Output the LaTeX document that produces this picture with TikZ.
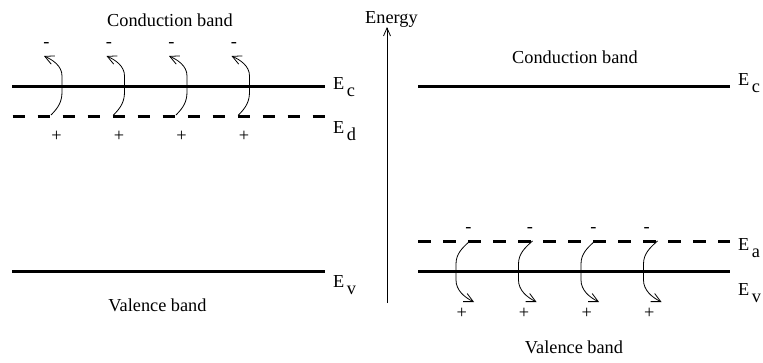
\documentclass[tikz,border=0pt]{standalone}
\usepackage{fontspec}
\setmainfont{Liberation Serif}
\usetikzlibrary{arrows.meta}
\tikzset{
  band/.style={line width=3pt},
  lvl/.style={line width=3pt, dash pattern=on 12.5pt off 12.5pt},
  jump/.style={line width=0.8pt, -{Straight Barb[length=9pt,width=9pt]}},
  lbl/.style={font=\fontsize{18.3}{22}\selectfont, inner sep=0pt},
  chg/.style={font=\fontsize{18.3}{22}\selectfont, inner sep=0pt, anchor=base},
}
\newcommand{\lev}[2]{E\hspace{2.5pt}\raisebox{-7.5pt}{#2}}
\begin{document}
\begin{tikzpicture}[x=1pt,y=-1pt]
\useasboundingbox (0,0) rectangle (763,362);
% energy axis
\coordinate (axb) at (387,303);
\coordinate (axt) at (387,27);
\draw[line width=0.8pt, -{Straight Barb[length=8pt,width=7pt]}] (axb) -- (axt);
\node[lbl, anchor=base west] (energy) at (365,23) {Energy};
% left panel
\coordinate (lcA) at (12,86.7); \coordinate (lcB) at (325,86.7);
\coordinate (ldA) at (12.5,116.7); \coordinate (ldB) at (325,116.7);
\coordinate (lvA) at (12,271.5); \coordinate (lvB) at (325,271.5);
\draw[band] (lcA) -- (lcB);
\draw[lvl] (ldA) -- (ldB);
\draw[band] (lvA) -- (lvB);
\node[lbl, anchor=base] (lcond) at (170,26.5) {Conduction band};
\node[lbl, anchor=base] (lval) at (157.5,311) {Valence band};
\node[lbl, anchor=base west] (lEc) at (333,89) {\lev{E}{c}};
\node[lbl, anchor=base west] (lEd) at (333,133) {\lev{E}{d}};
\node[lbl, anchor=base west] (lEv) at (333,287) {\lev{E}{v}};
\foreach \k in {0,1,2,3}{
  \pgfmathsetmacro{\xo}{62.5*\k}
  \node[chg] (lm\k) at (46.5+\xo,47.5) {-};
  \node[chg] (lp\k) at (56.5+\xo,141) {+};
  \coordinate (ls\k) at (51+\xo,115);
  \coordinate (lt\k) at (44+\xo,56);
  \draw[jump] (ls\k) .. controls ([xshift=7pt,yshift=7pt]ls\k) and ([xshift=11pt,yshift=13pt]ls\k) .. ([xshift=11pt,yshift=23pt]ls\k)
     -- ([xshift=11pt,yshift=39pt]ls\k) .. controls ([xshift=11pt,yshift=49pt]ls\k) and ([xshift=2pt,yshift=55pt]ls\k) .. (lt\k);
}
% right panel
\coordinate (rcA) at (418,86.7); \coordinate (rcB) at (730,86.7);
\coordinate (raA) at (418,241); \coordinate (raB) at (730,241);
\coordinate (rvA) at (418,271.5); \coordinate (rvB) at (730,271.5);
\draw[band] (rcA) -- (rcB);
\draw[lvl] (raA) -- (raB);
\draw[band] (rvA) -- (rvB);
\node[lbl, anchor=base] (rcond) at (575,63) {Conduction band};
\node[lbl, anchor=base] (rval) at (574,353) {Valence band};
\node[lbl, anchor=base west] (rEc) at (738,85) {\lev{E}{c}};
\node[lbl, anchor=base west] (rEa) at (738,250) {\lev{E}{a}};
\node[lbl, anchor=base west] (rEv) at (738,295) {\lev{E}{v}};
\node[chg] (rm0) at (468.3,232) {-};
\node[chg] (rm1) at (530,232) {-};
\node[chg] (rm2) at (593.3,232) {-};
\node[chg] (rm3) at (646.7,232) {-};
\node[chg] (rp0) at (461.7,318) {+};
\node[chg] (rp1) at (524,318) {+};
\node[chg] (rp2) at (586.7,318) {+};
\node[chg] (rp3) at (649.3,318) {+};
\foreach \k in {0,1,2,3}{
  \pgfmathsetmacro{\xo}{62.5*\k}
  \coordinate (rs\k) at (470+\xo,241);
  \coordinate (rt\k) at (474+\xo,302);
  \draw[jump] (rs\k) .. controls ([xshift=-8pt,yshift=-7pt]rs\k) and ([xshift=-14pt,yshift=-13pt]rs\k) .. ([xshift=-14pt,yshift=-23pt]rs\k)
     -- ([xshift=-14pt,yshift=-39pt]rs\k) .. controls ([xshift=-14pt,yshift=-49pt]rs\k) and ([xshift=-6pt,yshift=-56pt]rs\k) .. (rt\k);
}
\end{tikzpicture}
\end{document}
